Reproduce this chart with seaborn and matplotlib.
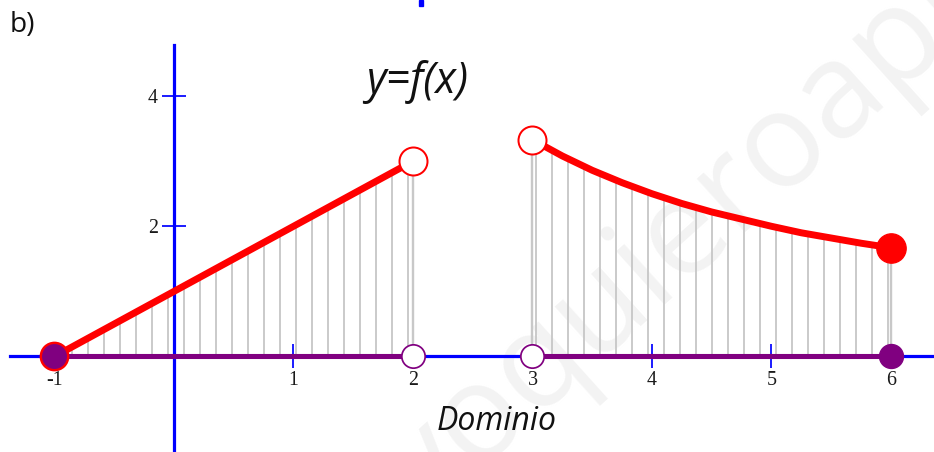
import matplotlib
matplotlib.use("Agg")
import matplotlib.pyplot as plt
import seaborn as sns

# tramo 1: recta de (-1, 0) a (2, 3)
seg1_x = [-1.0, 2.0]
seg1_y = [0.0, 3.0]

# tramo 2: curva decreciente de x=3 a x=6
seg2_x = [3.0, 3.25, 3.5, 3.75, 4.0, 4.25, 4.5, 4.75, 5.0, 5.25, 5.5, 5.75, 6.0]
seg2_y = [3.33, 3.08, 2.86, 2.67, 2.50, 2.35, 2.22, 2.11, 2.00, 1.90, 1.82, 1.74, 1.67]

# dominio sobre el eje x
dom1 = [-1.0, 2.0]
dom2 = [3.0, 6.0]

x_ticks = [-1, 1, 2, 3, 4, 5, 6]
x_ticklabels = ["-1", "1", "2", "3", "4", "5", "6"]
y_ticks = [2, 4]
y_ticklabels = ["2", "4"]

RED = "#ff0000"
PURPLE = "#800080"
BLUE = "#0000ff"
GREY = "#c8c8c8"

sns.set_style("white")
plt.rcParams["hatch.linewidth"] = 1.4
plt.rcParams["hatch.color"] = GREY

dpi = 96
fig = plt.figure(figsize=(934 / dpi, 452 / dpi), dpi=dpi)
ax = fig.add_axes([0, 0, 1, 1])
ax.patch.set_alpha(0)

ax.set_xlim(-1.456, 6.360)
ax.set_ylim(-1.467, 5.476)

# marca de agua
ax.text(0.851, 0.69, "yoquieroaprobar", transform=ax.transAxes, rotation=42,
        rotation_mode="anchor", ha="center", va="center", fontsize=100,
        family="Open Sans", color="#f3f3f3", zorder=0)

# sombreado vertical bajo la funcion
ax.fill_between(seg1_x, 0, seg1_y, facecolor="none", edgecolor=GREY,
                hatch="|", linewidth=0, zorder=1)
ax.fill_between(seg2_x, 0, seg2_y, facecolor="none", edgecolor=GREY,
                hatch="|", linewidth=0, zorder=1)
ax.vlines([seg1_x[-1], seg2_x[0], seg2_x[-1]], 0,
          [seg1_y[-1], seg2_y[0], seg2_y[-1]], color=GREY, lw=1.8, zorder=1)

# ejes azules
for side in ["top", "right"]:
    ax.spines[side].set_visible(False)
ax.spines["left"].set_position(("data", 0))
ax.spines["bottom"].set_position(("data", 0))
ax.spines["left"].set_bounds(-1.467, 4.785)
ax.spines["bottom"].set_bounds(-1.372, 6.360)
for side in ["left", "bottom"]:
    ax.spines[side].set_color(BLUE)
    ax.spines[side].set_linewidth(2.4)
    ax.spines[side].set_zorder(2)

ax.set_xticks(x_ticks)
ax.set_xticklabels(x_ticklabels)
ax.set_yticks(y_ticks)
ax.set_yticklabels(y_ticklabels)
ax.tick_params(bottom=True, left=True, direction="inout", length=18, width=1.3,
               color=BLUE, labelcolor="#1a1a1a", labelsize=15, pad=2)
ax.tick_params(axis="y", pad=3)
for lab in ax.get_xticklabels() + ax.get_yticklabels():
    lab.set_family("Liberation Serif")

# dominio (morado)
sns.lineplot(x=dom1, y=[0, 0], color=PURPLE, lw=3.8, ax=ax, zorder=3)
sns.lineplot(x=dom2, y=[0, 0], color=PURPLE, lw=3.8, ax=ax, zorder=3)

# funcion (rojo)
sns.lineplot(x=seg1_x, y=seg1_y, color=RED, lw=5.2, ax=ax, zorder=4)
sns.lineplot(x=seg2_x, y=seg2_y, color=RED, lw=5.2, ax=ax, zorder=4, sort=False)

# puntos extremos
ax.plot(seg1_x[-1], seg1_y[-1], "o", ms=21, mfc="white", mec=RED, mew=1.5, zorder=5)
ax.plot(seg2_x[0], seg2_y[0], "o", ms=21, mfc="white", mec=RED, mew=1.5, zorder=5)
ax.plot(seg2_x[-1], seg2_y[-1], "o", ms=22, mfc=RED, mec=RED, mew=1, zorder=5)

ax.plot(dom1[0], 0, "o", ms=20.5, mfc=PURPLE, mec=RED, mew=1.8, zorder=6)
ax.plot(dom1[1], 0, "o", ms=17.5, mfc="white", mec=PURPLE, mew=1.3, zorder=6)
ax.plot(dom2[0], 0, "o", ms=17.5, mfc="white", mec=PURPLE, mew=1.3, zorder=6)
ax.plot(dom2[1], 0, "o", ms=18, mfc=PURPLE, mec=PURPLE, mew=1, zorder=6)

ax.set_xlabel("")
ax.set_ylabel("")

# textos
ax.text(417 / 934, 1 - 82 / 452, "y=f(x)", transform=ax.transAxes, ha="center",
        va="center", fontsize=32, style="italic", family="Open Sans", color="#111111")
ax.text(497 / 934, 1 - 421 / 452, "Dominio", transform=ax.transAxes, ha="center",
        va="center", fontsize=24, style="italic", family="Open Sans", color="#111111")
fig.text(10 / 934, 1 - 25 / 452, "b)", ha="left", va="center", fontsize=21,
         family="Open Sans", color="#111111")

# trozo azul cortado arriba
fig.patches.append(plt.Rectangle((419 / 934, 1 - 6 / 452), 4 / 934, 6 / 452,
                                 transform=fig.transFigure, color=BLUE))

fig.savefig("out.png", dpi=dpi)
